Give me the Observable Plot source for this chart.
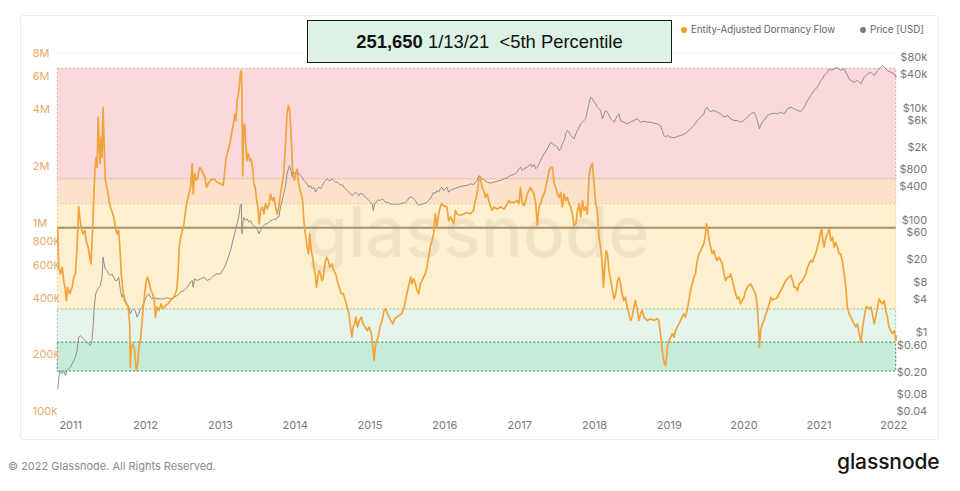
<!DOCTYPE html>
<html>
<head>
<meta charset="utf-8">
<script src="https://cdn.jsdelivr.net/npm/d3@7"></script>
<script src="https://cdn.jsdelivr.net/npm/@observablehq/plot@0.6"></script>
<style>
  html, body { margin: 0; padding: 0; background: #fff; }
  body { width: 960px; height: 491px; overflow: hidden; font-family: Inter, "Noto Sans", sans-serif; }
  #wrap { position: relative; width: 960px; height: 491px; }
  #frame { position: absolute; left: 20px; top: 15px; width: 919px; height: 425px; border: 1px solid #ececec; border-radius: 3px; box-sizing: border-box; }
  #chart { position: absolute; left: 0; top: 0; }
  #title { position: absolute; left: 307px; top: 20px; width: 365px; height: 43px; box-sizing: border-box;
           background: #dcf2e5; border: 1.5px solid #1a1a1a; display: flex; align-items: center; justify-content: center;
           font-family: "Liberation Sans", Arial, sans-serif; font-size: 18.4px; color: #111; white-space: pre; }
  #title b { font-weight: 700; }
  .leg { position: absolute; top: 24px; font-size: 9.7px; color: #666; display: flex; align-items: center; white-space: nowrap; }
  .dot { width: 6px; height: 6px; border-radius: 50%; margin-right: 4px; display: inline-block; }
  #copy { position: absolute; left: 8px; top: 459px; font-size: 11px; color: #8a8a8a; }
  #logo { position: absolute; left: 837px; top: 449px; font-size: 21px; color: #141414; font-weight: 500; letter-spacing: -0.1px; }
</style>
</head>
<body>
<div id="wrap">
  <div id="frame"></div>
  <div id="chart"></div>
  <div id="title"><b>251,650</b> 1/13/21  &lt;5th Percentile</div>
  <div class="leg" style="left:681px"><span class="dot" style="background:#f29b2a"></span>Entity-Adjusted Dormancy Flow</div>
  <div class="leg" style="left:860px"><span class="dot" style="background:#7b7b7b"></span>Price [USD]</div>
  <div id="copy">© 2022 Glassnode. All Rights Reserved.</div>
  <div id="logo">glassnode</div>
</div>
<script>
// ---------------- DATA ----------------
// Entity-Adjusted Dormancy Flow, values in thousands
const dormancySeries = [
["2010-10-30",933],["2010-11-03",584],["2010-11-12",538],["2010-11-20",584],["2010-11-28",496],["2010-12-06",439],
["2010-12-11",389],["2010-12-17",457],["2010-12-27",422],["2011-01-08",457],["2011-01-16",517],["2011-01-24",538],
["2011-02-01",746],["2011-02-09",1220],["2011-02-14",1080],["2011-02-21",953],["2011-03-01",878],["2011-03-11",915],
["2011-03-19",793],["2011-03-27",746],["2011-04-04",660],["2011-04-10",608],["2011-04-17",878],["2011-04-23",1320],
["2011-04-30",1980],["2011-05-05",2240],["2011-05-10",1980],["2011-05-15",3660],["2011-05-20",2640],["2011-05-24",2070],
["2011-05-29",2860],["2011-06-03",2240],["2011-06-08",4130],["2011-06-13",2640],["2011-06-19",1690],["2011-06-27",1550],
["2011-07-05",1370],["2011-07-13",1220],["2011-07-23",1140],["2011-07-30",1080],["2011-08-07",953],["2011-08-15",878],
["2011-08-23",915],["2011-09-01",660],["2011-09-05",538],["2011-09-13",439],["2011-09-20",389],["2011-09-30",373],
["2011-10-08",358],["2011-10-16",292],["2011-10-19",172],["2011-10-24",220],["2011-11-01",229],["2011-11-09",211],
["2011-11-17",165],["2011-11-24",179],["2011-11-30",220],["2011-12-07",238],["2011-12-13",281],["2011-12-20",344],
["2011-12-28",422],["2012-01-05",496],["2012-01-12",517],["2012-01-20",476],["2012-01-28",439],["2012-02-05",422],
["2012-02-13",389],["2012-02-19",317],["2012-02-26",358],["2012-03-07",344],["2012-03-17",373],["2012-03-27",351],
["2012-04-08",366],["2012-04-19",373],["2012-05-02",389],["2012-05-19",405],["2012-06-01",439],["2012-06-08",538],
["2012-06-14",746],["2012-06-21",843],["2012-06-29",915],["2012-07-07",992],["2012-07-15",1170],["2012-07-23",1320],
["2012-07-31",1430],["2012-08-08",1550],["2012-08-16",2070],["2012-08-21",1430],["2012-08-28",1830],["2012-09-05",1690],
["2012-09-13",1760],["2012-09-21",1980],["2012-09-29",1940],["2012-10-09",1830],["2012-10-17",1760],["2012-10-25",1550],
["2012-11-02",1620],["2012-11-13",1690],["2012-11-30",1720],["2012-12-16",1650],["2013-01-01",1620],["2013-01-14",1590],
["2013-01-21",1830],["2013-01-27",2150],["2013-02-03",2340],["2013-02-11",2530],["2013-02-19",2750],["2013-02-27",3110],
["2013-03-07",3440],["2013-03-12",3810],["2013-03-18",3510],["2013-03-23",4480],["2013-03-30",4860],["2013-04-04",5500],
["2013-04-08",6210],["2013-04-13",6470],["2013-04-16",4860],["2013-04-20",1790],["2013-04-24",3240],["2013-04-29",3370],
["2013-05-04",2640],["2013-05-11",2150],["2013-05-17",2340],["2013-05-24",2150],["2013-05-30",2200],["2013-06-07",1980],
["2013-06-13",1620],["2013-06-20",1550],["2013-06-27",1320],["2013-07-03",1220],["2013-07-09",992],["2013-07-16",1170],
["2013-07-24",1220],["2013-08-01",1120],["2013-08-09",1270],["2013-08-18",1190],["2013-08-26",1270],["2013-09-03",1430],
["2013-09-11",1320],["2013-09-19",1370],["2013-09-27",1220],["2013-10-05",1120],["2013-10-13",1220],["2013-10-21",1430],
["2013-10-29",1620],["2013-11-06",1830],["2013-11-14",2530],["2013-11-22",3810],["2013-11-29",4220],["2013-12-05",3970],
["2013-12-10",3240],["2013-12-15",2530],["2013-12-20",1830],["2013-12-28",1690],["2014-01-04",1830],["2014-01-11",1940],
["2014-01-15",1690],["2014-01-22",1550],["2014-01-30",1430],["2014-02-06",1320],["2014-02-12",1030],["2014-02-20",878],
["2014-02-28",746],["2014-03-07",688],["2014-03-13",878],["2014-03-20",716],["2014-03-27",660],["2014-04-02",584],
["2014-04-09",538],["2014-04-15",457],["2014-04-22",517],["2014-04-28",561],["2014-05-05",538],["2014-05-11",496],
["2014-05-18",517],["2014-05-26",608],["2014-06-03",660],["2014-06-11",634],["2014-06-19",584],["2014-06-29",608],
["2014-07-08",561],["2014-07-18",538],["2014-07-25",496],["2014-08-04",457],["2014-08-14",422],["2014-08-24",422],
["2014-09-03",389],["2014-09-12",358],["2014-09-20",330],["2014-09-28",281],["2014-10-05",248],["2014-10-11",281],
["2014-10-18",292],["2014-10-24",317],["2014-11-01",281],["2014-11-10",304],["2014-11-20",317],["2014-11-29",292],
["2014-12-09",281],["2014-12-19",269],["2014-12-28",281],["2015-01-08",259],["2015-01-14",229],["2015-01-21",187],
["2015-01-27",220],["2015-02-03",238],["2015-02-10",248],["2015-02-19",281],["2015-03-01",304],["2015-03-11",344],
["2015-03-19",351],["2015-03-28",330],["2015-04-05",317],["2015-04-13",304],["2015-04-22",292],["2015-05-02",311],
["2015-05-12",317],["2015-05-23",324],["2015-06-04",330],["2015-06-17",358],["2015-06-30",422],["2015-07-11",476],
["2015-07-19",517],["2015-07-25",476],["2015-08-02",507],["2015-08-11",476],["2015-08-19",439],["2015-08-27",422],
["2015-09-04",476],["2015-09-12",496],["2015-09-20",517],["2015-09-28",538],["2015-10-06",584],["2015-10-14",660],
["2015-10-22",746],["2015-10-31",809],["2015-11-08",878],["2015-11-16",1120],["2015-11-24",953],["2015-12-02",1120],
["2015-12-10",1220],["2015-12-18",1270],["2015-12-26",1240],["2016-01-12",1220],["2016-01-20",1030],["2016-01-29",1080],
["2016-02-14",992],["2016-02-22",1170],["2016-03-01",1120],["2016-03-17",1100],["2016-04-02",1120],["2016-04-19",1140],
["2016-05-05",1120],["2016-05-21",1170],["2016-05-29",1320],["2016-06-07",1430],["2016-06-15",1690],["2016-06-23",1760],
["2016-07-01",1550],["2016-07-10",1490],["2016-07-18",1370],["2016-07-26",1430],["2016-08-03",1320],["2016-08-12",1220],
["2016-08-20",1170],["2016-08-28",1220],["2016-09-13",1190],["2016-09-30",1220],["2016-10-16",1190],["2016-11-01",1270],
["2016-11-09",1320],["2016-11-17",1290],["2016-12-04",1290],["2016-12-20",1320],["2016-12-28",1270],["2017-01-05",1550],
["2017-01-14",1270],["2017-01-22",1240],["2017-01-30",1320],["2017-02-07",1430],["2017-02-15",1490],["2017-02-23",1550],
["2017-03-03",1490],["2017-03-12",1430],["2017-03-20",1270],["2017-03-28",972],["2017-04-05",1220],["2017-04-13",1270],
["2017-04-21",1370],["2017-04-30",1430],["2017-05-08",1550],["2017-05-16",1690],["2017-05-24",1900],["2017-06-02",1980],
["2017-06-10",1980],["2017-06-18",1620],["2017-06-26",1550],["2017-07-04",1430],["2017-07-12",1370],["2017-07-20",1460],
["2017-07-28",1220],["2017-08-06",1430],["2017-08-14",1320],["2017-08-22",1370],["2017-08-30",1270],["2017-09-07",1220],
["2017-09-15",1120],["2017-09-23",972],["2017-10-02",992],["2017-10-10",1170],["2017-10-18",1270],["2017-10-26",1080],
["2017-11-03",1320],["2017-11-11",1170],["2017-11-19",1220],["2017-11-27",1120],["2017-12-05",1760],["2017-12-13",1980],
["2017-12-22",2070],["2017-12-30",1620],["2018-01-07",1270],["2018-01-15",1170],["2018-01-23",843],["2018-01-31",746],
["2018-02-09",584],["2018-02-14",457],["2018-02-20",584],["2018-02-27",716],["2018-03-05",688],["2018-03-13",561],
["2018-03-21",496],["2018-03-30",439],["2018-04-07",397],["2018-04-15",422],["2018-04-23",496],["2018-05-01",517],
["2018-05-08",476],["2018-05-16",422],["2018-05-24",389],["2018-06-01",405],["2018-06-10",358],["2018-06-18",330],
["2018-06-26",304],["2018-07-04",317],["2018-07-12",358],["2018-07-20",389],["2018-07-28",351],["2018-08-06",304],
["2018-08-14",330],["2018-08-22",344],["2018-08-30",317],["2018-09-08",311],["2018-09-16",304],["2018-10-02",311],
["2018-10-18",304],["2018-11-03",311],["2018-11-11",304],["2018-11-19",259],["2018-11-28",211],["2018-12-02",194],
["2018-12-09",179],["2018-12-15",175],["2018-12-23",220],["2018-12-31",238],["2019-01-08",248],["2019-01-16",259],
["2019-01-24",248],["2019-02-01",269],["2019-02-09",281],["2019-02-17",292],["2019-02-25",304],["2019-03-05",317],
["2019-03-13",330],["2019-03-21",317],["2019-03-29",344],["2019-04-07",389],["2019-04-15",439],["2019-04-23",476],
["2019-05-01",517],["2019-05-09",538],["2019-05-18",634],["2019-05-26",688],["2019-06-03",716],["2019-06-11",746],
["2019-06-19",777],["2019-06-27",878],["2019-07-02",992],["2019-07-09",915],["2019-07-15",809],["2019-07-22",746],
["2019-07-30",688],["2019-08-07",716],["2019-08-15",660],["2019-08-23",634],["2019-09-01",660],["2019-09-09",634],
["2019-09-17",608],["2019-09-25",538],["2019-10-03",496],["2019-10-12",517],["2019-10-20",517],["2019-10-28",538],
["2019-11-05",496],["2019-11-13",457],["2019-11-21",422],["2019-11-29",397],["2019-12-07",405],["2019-12-15",373],
["2019-12-23",389],["2020-01-01",405],["2020-01-09",439],["2020-01-17",457],["2020-01-25",467],["2020-02-02",476],
["2020-02-11",457],["2020-02-19",439],["2020-02-27",422],["2020-03-06",358],["2020-03-11",292],["2020-03-16",220],
["2020-03-22",269],["2020-03-30",292],["2020-04-08",304],["2020-04-16",330],["2020-04-24",344],["2020-05-03",373],
["2020-05-11",405],["2020-05-19",389],["2020-05-27",397],["2020-06-04",397],["2020-06-12",405],["2020-06-20",422],
["2020-06-29",439],["2020-07-07",457],["2020-07-15",476],["2020-07-23",496],["2020-07-31",507],["2020-08-08",517],
["2020-08-17",528],["2020-08-25",496],["2020-09-02",457],["2020-09-10",457],["2020-09-18",439],["2020-09-26",476],
["2020-10-05",486],["2020-10-13",496],["2020-10-21",517],["2020-10-29",538],["2020-11-06",584],["2020-11-14",608],
["2020-11-22",634],["2020-12-01",621],["2020-12-08",660],["2020-12-16",688],["2020-12-24",746],["2021-01-02",809],
["2021-01-07",878],["2021-01-14",933],["2021-01-20",809],["2021-01-26",746],["2021-02-04",843],["2021-02-12",878],
["2021-02-20",933],["2021-02-28",809],["2021-03-08",843],["2021-03-16",746],["2021-03-24",793],["2021-04-01",746],
["2021-04-10",688],["2021-04-17",688],["2021-04-25",634],["2021-05-04",538],["2021-05-12",457],["2021-05-20",358],
["2021-05-28",330],["2021-06-06",317],["2021-06-14",304],["2021-06-22",292],["2021-06-30",281],["2021-07-08",292],
["2021-07-16",259],["2021-07-25",233],["2021-08-02",281],["2021-08-10",317],["2021-08-18",358],["2021-08-26",358],
["2021-09-03",351],["2021-09-11",358],["2021-09-19",330],["2021-09-27",292],["2021-10-05",317],["2021-10-14",358],
["2021-10-22",397],["2021-10-30",381],["2021-11-07",373],["2021-11-15",389],["2021-11-23",344],["2021-12-01",317],
["2021-12-09",281],["2021-12-17",269],["2021-12-25",259],["2022-01-03",269],["2022-01-11",238],["2022-01-13",251.65]
];

// BTC price in USD
const priceSeries = [
["2010-10-30",0.10],["2010-11-08",0.213],["2010-11-20",0.186],["2010-11-28",0.213],["2010-12-06",0.174],["2010-12-14",0.213],
["2010-12-22",0.229],["2010-12-31",0.245],["2011-01-08",0.281],["2011-01-16",0.321],["2011-01-24",0.369],["2011-02-01",0.485],
["2011-02-09",0.836],["2011-02-17",0.895],["2011-02-25",0.836],["2011-03-05",0.781],["2011-03-13",0.730],["2011-03-21",0.682],
["2011-03-29",0.637],["2011-04-07",0.595],["2011-04-15",0.730],["2011-04-20",1.26],["2011-04-26",2.86],["2011-05-03",4.94],
["2011-05-10",5.66],["2011-05-18",6.48],["2011-05-26",6.94],["2011-06-03",9.77],["2011-06-08",22.2],["2011-06-13",16.9],
["2011-06-19",13.7],["2011-06-27",12.8],["2011-07-05",11.2],["2011-07-13",10.4],["2011-07-21",11.2],["2011-07-30",9.77],
["2011-08-07",8.51],["2011-08-15",8.51],["2011-08-23",9.77],["2011-09-01",5.66],["2011-09-08",4.30],["2011-09-16",4.94],
["2011-09-25",3.76],["2011-10-03",3.28],["2011-10-11",2.86],["2011-10-19",2.17],["2011-10-27",2.49],["2011-11-04",2.67],
["2011-11-12",2.49],["2011-11-21",1.90],["2011-11-29",2.17],["2011-12-07",2.67],["2011-12-15",2.86],["2011-12-23",3.28],
["2012-01-01",4.02],["2012-01-09",4.61],["2012-01-17",4.94],["2012-01-25",4.30],["2012-02-02",4.02],["2012-02-11",4.30],
["2012-02-27",4.02],["2012-03-14",4.02],["2012-03-30",4.02],["2012-04-16",4.19],["2012-05-02",4.02],["2012-05-19",4.30],
["2012-06-04",4.61],["2012-06-21",5.28],["2012-07-07",5.66],["2012-07-23",6.48],["2012-08-08",7.96],["2012-08-16",8.51],
["2012-08-21",6.48],["2012-08-28",9.12],["2012-09-10",8.51],["2012-09-26",9.12],["2012-10-12",9.77],["2012-10-29",8.51],
["2012-11-13",9.12],["2012-11-30",10.4],["2012-12-16",11.2],["2013-01-01",11.2],["2013-01-21",14.7],["2013-02-03",19.3],
["2013-02-19",29.1],["2013-03-07",50.3],["2013-03-23",86.9],["2013-03-31",114],["2013-04-08",184],["2013-04-13",197],
["2013-04-16",57.7],["2013-04-20",86.9],["2013-04-24",114],["2013-05-02",99.6],["2013-05-11",107],["2013-05-19",93],
["2013-05-27",99.6],["2013-06-05",86.9],["2013-06-13",81.1],["2013-06-21",75.8],["2013-06-29",70.8],["2013-07-08",57.7],
["2013-07-16",66.1],["2013-07-24",75.8],["2013-08-01",81.1],["2013-08-09",86.9],["2013-08-17",86.9],["2013-08-26",93],
["2013-09-03",99.6],["2013-09-11",99.6],["2013-09-19",107],["2013-09-27",102],["2013-10-05",114],["2013-10-13",114],
["2013-10-21",172],["2013-10-29",226],["2013-11-06",297],["2013-11-14",390],["2013-11-22",674],["2013-12-01",886],
["2013-12-05",948],["2013-12-11",773],["2013-12-18",588],["2013-12-24",722],["2014-01-02",674],["2014-01-11",773],
["2014-01-19",674],["2014-01-27",629],["2014-02-04",588],["2014-02-12",513],["2014-02-21",479],["2014-02-28",447],
["2014-03-08",390],["2014-03-17",418],["2014-03-25",364],["2014-04-02",390],["2014-04-10",318],["2014-04-19",364],
["2014-04-27",390],["2014-05-05",364],["2014-05-13",418],["2014-05-21",479],["2014-05-29",513],["2014-06-06",549],
["2014-06-15",513],["2014-06-23",513],["2014-07-01",549],["2014-07-09",513],["2014-07-17",479],["2014-07-25",479],
["2014-08-02",447],["2014-08-11",418],["2014-08-19",435],["2014-08-27",390],["2014-09-04",364],["2014-09-12",340],
["2014-09-20",318],["2014-09-28",297],["2014-10-07",277],["2014-10-15",297],["2014-10-23",318],["2014-10-31",297],
["2014-11-08",277],["2014-11-16",305],["2014-11-24",297],["2014-12-03",277],["2014-12-11",259],["2014-12-19",242],
["2014-12-27",226],["2015-01-04",211],["2015-01-12",197],["2015-01-17",150],["2015-01-23",197],["2015-01-29",203],
["2015-02-06",226],["2015-02-14",232],["2015-02-22",226],["2015-03-02",242],["2015-03-10",226],["2015-03-18",211],
["2015-03-26",211],["2015-04-04",203],["2015-04-12",197],["2015-04-20",192],["2015-04-28",197],["2015-05-06",192],
["2015-05-14",197],["2015-05-23",192],["2015-05-31",197],["2015-06-08",203],["2015-06-17",203],["2015-06-25",211],
["2015-07-02",226],["2015-07-10",252],["2015-07-18",259],["2015-07-25",259],["2015-08-02",242],["2015-08-11",226],
["2015-08-19",197],["2015-08-27",184],["2015-09-04",192],["2015-09-20",197],["2015-10-06",211],["2015-10-22",242],
["2015-10-31",277],["2015-11-08",318],["2015-11-16",297],["2015-11-24",340],["2015-12-02",318],["2015-12-10",364],
["2015-12-18",390],["2015-12-26",340],["2016-01-04",364],["2016-01-12",390],["2016-01-20",318],["2016-01-29",340],
["2016-02-14",364],["2016-03-01",380],["2016-03-17",401],["2016-04-02",412],["2016-04-19",418],["2016-05-05",447],
["2016-05-21",435],["2016-05-29",479],["2016-06-07",513],["2016-06-15",629],["2016-06-23",588],["2016-07-01",549],
["2016-07-10",527],["2016-07-26",479],["2016-08-12",459],["2016-08-28",479],["2016-09-13",499],["2016-09-30",513],
["2016-10-16",549],["2016-11-01",572],["2016-11-17",629],["2016-12-04",656],["2016-12-20",722],["2016-12-28",828],
["2017-01-05",886],["2017-01-14",773],["2017-01-22",828],["2017-02-07",886],["2017-02-23",1014],["2017-03-03",886],
["2017-03-12",988],["2017-03-20",828],["2017-03-28",886],["2017-04-05",1014],["2017-04-13",1164],["2017-04-21",1334],
["2017-04-30",1528],["2017-05-16",1876],["2017-05-24",2152],["2017-06-02",2466],["2017-06-10",2303],["2017-06-18",2152],
["2017-06-26",2152],["2017-07-04",2009],["2017-07-12",1754],["2017-07-20",1876],["2017-07-28",2303],["2017-08-06",2642],
["2017-08-14",3475],["2017-08-22",3983],["2017-08-30",3719],["2017-09-07",3243],["2017-09-15",3028],["2017-09-23",2829],
["2017-10-02",3475],["2017-10-10",3983],["2017-10-18",4564],["2017-10-26",5230],["2017-11-03",5598],["2017-11-11",5995],
["2017-11-19",6414],["2017-11-27",9036],["2017-12-05",11860],["2017-12-13",15600],["2017-12-22",14560],["2017-12-30",12700],
["2018-01-07",11860],["2018-01-15",10350],["2018-01-23",9660],["2018-01-31",9036],["2018-02-09",6414],["2018-02-17",7870],
["2018-02-25",9036],["2018-03-05",8430],["2018-03-13",7360],["2018-03-21",6414],["2018-03-30",5995],["2018-04-07",5598],
["2018-04-15",6414],["2018-04-23",7360],["2018-05-01",7870],["2018-05-08",5995],["2018-05-24",5598],["2018-06-10",5230],
["2018-06-26",5598],["2018-07-12",5995],["2018-07-28",6414],["2018-08-14",5598],["2018-08-30",5820],["2018-09-16",5598],
["2018-10-02",5598],["2018-10-18",5370],["2018-11-03",5230],["2018-11-19",4886],["2018-11-28",3983],["2018-12-06",3243],
["2018-12-14",3028],["2018-12-23",3243],["2019-01-08",3028],["2019-01-24",2944],["2019-02-09",3110],["2019-02-25",3243],
["2019-03-13",3380],["2019-03-29",3719],["2019-04-15",4266],["2019-05-01",4886],["2019-05-18",5995],["2019-06-03",6870],
["2019-06-19",7870],["2019-06-27",9660],["2019-07-05",10350],["2019-07-13",9036],["2019-07-22",8670],["2019-08-07",9036],
["2019-08-23",8430],["2019-09-09",7870],["2019-09-25",6870],["2019-10-12",7360],["2019-10-28",6414],["2019-11-13",5995],
["2019-11-29",5995],["2019-12-15",5598],["2020-01-01",5995],["2020-01-17",6870],["2020-02-02",7870],["2020-02-19",8430],
["2020-02-27",7360],["2020-03-06",5995],["2020-03-16",4266],["2020-03-22",4886],["2020-03-30",5598],["2020-04-08",5995],
["2020-04-24",7360],["2020-05-11",7870],["2020-05-27",8090],["2020-06-12",7870],["2020-06-29",8430],["2020-07-15",7870],
["2020-07-31",9660],["2020-08-17",10350],["2020-09-02",9660],["2020-09-18",9036],["2020-10-04",8670],["2020-10-21",10350],
["2020-11-06",13600],["2020-11-22",16700],["2020-12-08",20500],["2020-12-24",23500],["2021-01-02",26900],["2021-01-10",30900],
["2021-01-18",33000],["2021-01-26",37900],["2021-02-04",40500],["2021-02-12",43400],["2021-02-20",49800],["2021-02-28",46500],
["2021-03-16",49800],["2021-04-01",51800],["2021-04-17",46500],["2021-05-04",49800],["2021-05-20",37900],["2021-05-28",33000],
["2021-06-06",30900],["2021-06-22",28800],["2021-07-08",30900],["2021-07-25",26900],["2021-08-10",35400],["2021-08-26",40500],
["2021-09-11",43400],["2021-09-27",37900],["2021-10-14",46500],["2021-10-30",53200],["2021-11-07",57000],["2021-11-15",53200],
["2021-12-01",46500],["2021-12-17",43400],["2022-01-03",40500],["2022-01-11",35400],["2022-01-13",36000]
];

// Percentile bands of the dormancy flow (values in thousands), top to bottom
const bandTop    = [6610, 1710, 1260, 348, 232];
const bandBottom = [1710, 1260, 348, 232, 163];
const bandFill   = ["#f9d9d9", "#fde2cb", "#fef0cf", "#e6f4ec", "#c6ebd8"];
const bandStroke = ["#e6a6a6", "#ebbd98", "#e9d29a", "#8cc8a4", "#3f8f5f"];
const medianLine = 945; // thousands

// Axis ticks
const leftTicks   = [8000, 6000, 4000, 2000, 1000, 800, 600, 400, 200, 100];
const leftLabels  = ["8M", "6M", "4M", "2M", "1M", "800k", "600k", "400k", "200k", "100k"];
const rightTicks  = [80000, 40000, 10000, 6000, 2000, 800, 400, 100, 60, 20, 8, 4, 1, 0.6, 0.2, 0.08, 0.04];
const rightLabels = ["$80k", "$40k", "$10k", "$6k", "$2k", "$800", "$400", "$100", "$60", "$20", "$8", "$4", "$1", "$0.60", "$0.20", "$0.08", "$0.04"];
const yearTicks   = [2011, 2012, 2013, 2014, 2015, 2016, 2017, 2018, 2019, 2020, 2021, 2022];

// ---------------- CHART ----------------
const xDomain = [new Date("2010-10-30"), new Date("2022-01-13")];
const dormDomain = [100, 8000];            // left axis (thousands)
const priceDomain = [0.0398, 94400];       // right axis (USD), same pixel span

// map a price onto the left (log) axis so both log scales share the frame
const priceToLeft = d3.scaleLinear()
  .domain(priceDomain.map(Math.log10))
  .range(dormDomain.map(Math.log10));
const py = p => Math.pow(10, priceToLeft(Math.log10(p)));

const dorm = dormancySeries.map(([d, v]) => ({date: new Date(d), v}));
const price = priceSeries.map(([d, p]) => ({date: new Date(d), p}));
const bands = bandTop.map((t, i) => ({top: t, bottom: bandBottom[i], fill: bandFill[i], stroke: bandStroke[i]}));

const marks = [];
bands.forEach(b => {
  marks.push(Plot.rect([b], {
    x1: () => xDomain[0], x2: () => xDomain[1], y1: "bottom", y2: "top",
    fill: b.fill, stroke: b.stroke, strokeDasharray: "2,2", strokeWidth: 1
  }));
});
marks.push(
  Plot.ruleY([8000], {stroke: "#efefef", strokeWidth: 1}),
  Plot.text(["glassnode"], {frameAnchor: "middle", dy: 2, text: d => d, fontSize: 70, fontWeight: 500,
    fill: "#000", fillOpacity: 0.055, fontFamily: "Inter, sans-serif"}),
  Plot.ruleY([medianLine], {stroke: "#a1916f", strokeWidth: 2}),
  Plot.line(price, {x: "date", y: d => py(d.p), stroke: "#8e8e8e", strokeWidth: 1}),
  Plot.line(dorm, {x: "date", y: "v", stroke: "#f3a33b", strokeWidth: 1.7, strokeLinejoin: "round"}),
  Plot.text(leftTicks, {y: d => d, text: (d, i) => leftLabels[i], frameAnchor: "left", textAnchor: "start",
    dx: -25, fill: "#eaa96c", fontSize: 11}),
  Plot.text(rightTicks, {y: d => py(d), text: (d, i) => rightLabels[i], frameAnchor: "right", textAnchor: "end",
    dx: 31, fill: "#777", fontSize: 11}),
  Plot.text(yearTicks, {x: d => new Date(Date.UTC(d, 0, 1)), text: d => String(d), frameAnchor: "bottom",
    dy: 17, fill: "#777", fontSize: 11})
);

const chart = Plot.plot({
  width: 960,
  height: 440,
  marginLeft: 57.3,
  marginRight: 64.3,
  marginTop: 52.7,
  marginBottom: 29,
  style: {background: "transparent", overflow: "visible", fontFamily: "Inter, 'Noto Sans', sans-serif"},
  x: {type: "utc", domain: xDomain, axis: null},
  y: {type: "log", domain: dormDomain, axis: null},
  marks
});
document.getElementById("chart").appendChild(chart);
</script>
</body>
</html>
